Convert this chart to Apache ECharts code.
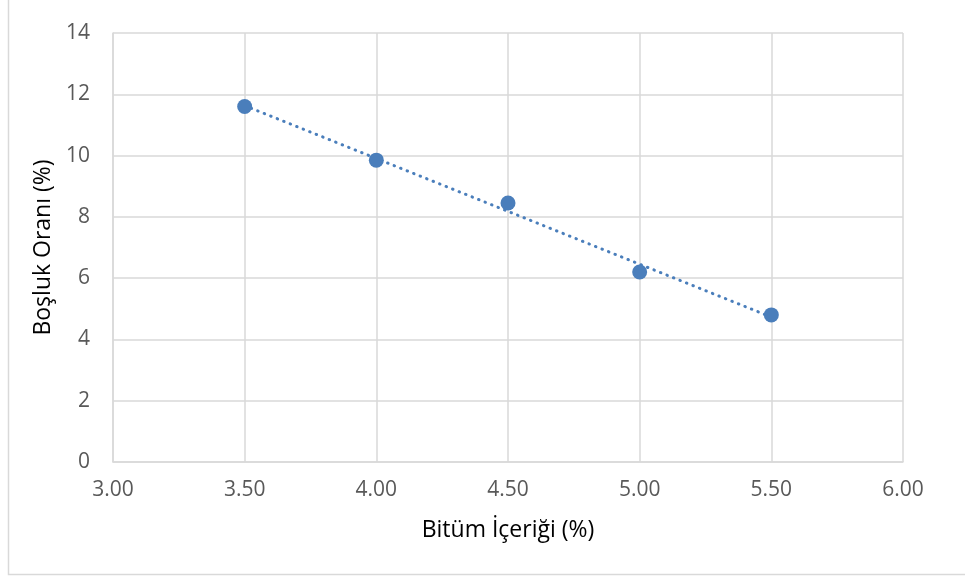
<!DOCTYPE html>
<html>
<head>
<meta charset="utf-8" />
<title>Boşluk Oranı</title>
<script src="https://cdn.jsdelivr.net/npm/echarts@6/dist/echarts.min.js"></script>
<style>
  html, body { margin: 0; padding: 0; background: #fff; }
</style>
</head>
<body>
<div id="main" style="width: 965px;height:578px;"></div>
<script type="text/javascript">
// veri
var bitum = [3.5, 4.0, 4.5, 5.0, 5.5];
var bosluk = [11.6, 9.85, 8.45, 6.2, 4.8];
var xTicks = [3.0, 3.5, 4.0, 4.5, 5.0, 5.5, 6.0];
var yTicks = [0, 2, 4, 6, 8, 10, 12, 14];

// dogrusal egilim cizgisi (en kucuk kareler)
function trend(xs, ys) {
  var n = xs.length, mx = 0, my = 0, sxy = 0, sxx = 0;
  for (var i = 0; i < n; i++) { mx += xs[i]; my += ys[i]; }
  mx /= n; my /= n;
  for (var j = 0; j < n; j++) {
    sxy += (xs[j] - mx) * (ys[j] - my);
    sxx += (xs[j] - mx) * (xs[j] - mx);
  }
  var b = sxy / sxx, a = my - b * mx;
  var x0 = xs[0], x1 = xs[n - 1];
  return [[x0, a + b * x0], [x1, a + b * x1]];
}

var pts = bitum.map(function (x, i) { return [x, bosluk[i]]; });
var grey = '#d9d9d9';
var blue = '#4a7ebb';
var font = '"Open Sans", "Noto Sans", sans-serif';

var myChart = echarts.init(document.getElementById('main'));
var option = {
  animation: false,
  backgroundColor: '#fff',
  graphic: [{
    type: 'rect',
    shape: { x: 8.5, y: -2, width: 980, height: 576.5 },
    style: { fill: 'none', stroke: grey, lineWidth: 1.5 },
    silent: true
  }],
  grid: { left: 113, right: 62, top: 33, bottom: 116 },
  xAxis: {
    type: 'value',
    min: xTicks[0],
    max: xTicks[xTicks.length - 1],
    interval: 0.5,
    name: 'Bitüm İçeriği (%)',
    nameLocation: 'middle',
    nameGap: 57,
    nameTextStyle: { color: '#000', fontSize: 23, fontFamily: font },
    axisLine: { lineStyle: { color: grey, width: 1.5 } },
    axisTick: { show: false },
    axisLabel: {
      color: '#595959', fontSize: 21, fontFamily: font, margin: 18,
      formatter: function (v) { return v.toFixed(2); }
    },
    splitLine: { show: true, lineStyle: { color: grey, width: 1.5 } }
  },
  yAxis: {
    type: 'value',
    min: yTicks[0],
    max: yTicks[yTicks.length - 1],
    interval: 2,
    name: 'Boşluk Oranı (%)',
    nameLocation: 'middle',
    nameGap: 58,
    nameTextStyle: { color: '#000', fontSize: 23, fontFamily: font },
    axisLine: { show: true, lineStyle: { color: grey, width: 1.5 } },
    axisTick: { show: false },
    axisLabel: { color: '#595959', fontSize: 21, fontFamily: font, margin: 23 },
    splitLine: { show: true, lineStyle: { color: grey, width: 1.5 } }
  },
  series: [
    {
      name: 'Eğilim',
      type: 'line',
      data: trend(bitum, bosluk),
      symbol: 'none',
      lineStyle: { color: blue, width: 3, type: [0.5, 6.5], cap: 'round' },
      z: 2
    },
    {
      name: 'Boşluk Oranı',
      type: 'scatter',
      data: pts,
      symbolSize: 15,
      itemStyle: { color: blue, opacity: 1 },
      z: 3
    }
  ]
};
myChart.setOption(option);
</script>
</body>
</html>
